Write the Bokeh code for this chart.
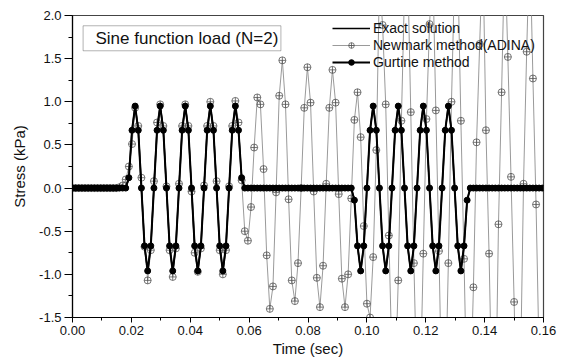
from bokeh.plotting import figure
from bokeh.models import (Range1d, FixedTicker, NumeralTickFormatter, Legend, LegendItem,
                          BoxAnnotation, Label, ColumnDataSource)
from bokeh.embed import file_html
from bokeh.resources import INLINE

# sampling step of all three series (s)
DT = 0.001064

exact_vals = (
    [0.0] * 18 + [0.12,
     0.67, 0.95, 0.67, 0.0, -0.67, -0.96, -0.67, 0.0,
     0.67, 0.95, 0.67, 0.0, -0.67, -0.96, -0.67, 0.0,
     0.67, 0.95, 0.67, 0.0, -0.67, -0.96, -0.67, 0.0,
     0.67, 0.95, 0.67, 0.0, -0.67, -0.96, -0.67, 0.0,
     0.67, 0.95, 0.67, 0.12] +
    [0.0] * 35 + [-0.14,
     -0.67, -0.96, -0.67, 0.0, 0.67, 0.95, 0.67, 0.0,
     -0.67, -0.96, -0.67, 0.0, 0.67, 0.95, 0.67, 0.0,
     -0.67, -0.96, -0.67, 0.0, 0.67, 0.95, 0.67, 0.0,
     -0.67, -0.96, -0.67, 0.0, 0.67, 0.95, 0.67, 0.0,
     -0.67, -0.96, -0.67, -0.14] +
    [0.0] * 24
)
gurtine_vals = list(exact_vals)

newmark_vals = (
    [0.0] * 15 +
    [0.01, 0.03, 0.10, 0.25, 0.51, 0.93, 0.72, 0.12, -0.68, -1.07,
     -0.72, 0.08, 0.76, 0.97, 0.72, 0.02, -0.72, -1.03, -0.70, 0.05,
     0.72, 0.97, 0.72, -0.04, -0.75, -0.97, -0.70, 0.03, 0.72, 1.00,
     0.72, 0.08, -0.72, -1.00, -0.72, 0.02, 0.72, 1.01, 0.76, 0.09,
     -0.50, -0.61, -0.22, 0.47, 1.05, 0.97, 0.22, -0.78, -1.40, -1.14,
     -0.05, 1.07, 1.48, 0.97, -0.13, -1.07, -1.31, -0.87, 0.00, 0.93,
     1.40, 0.99, -0.04, -1.04, -1.38, -0.90, 0.05, 0.93, 1.37, 0.99,
     -0.07, -1.05, -1.38, -1.00, -0.12, 0.79, 1.11, 0.59, -0.44, -1.34,
     -1.50, -0.80, 0.44, 2.40, 1.89, 0.97, -0.55, -2.00, -2.30, -1.07,
     0.78, 2.30, 2.60, 0.88, -0.87, -2.40, -2.40, -0.76, 0.80, 1.90,
     2.60, 0.90, -0.73, -2.60, -2.50, -0.87, 1.00, 2.50, 2.60, 0.78,
     -0.82, -2.60, -2.50, -1.15, 0.53, 1.67, 2.80, 0.67, -0.76, -2.60,
     -2.80, -0.42, 1.11, 2.80, 1.52, 0.13, -1.32, -2.90, -2.20, 0.05,
     1.58, 2.90, 1.27, -0.19, -2.00, -2.90]
)

time_vals = [round(i * DT, 6) for i in range(len(exact_vals))]

x_major = [0.00, 0.02, 0.04, 0.06, 0.08, 0.10, 0.12, 0.14, 0.16]
x_minor = [0.01, 0.03, 0.05, 0.07, 0.09, 0.11, 0.13, 0.15]
y_major = [-1.5, -1.0, -0.5, 0.0, 0.5, 1.0, 1.5, 2.0]
y_minor = [-1.25, -0.75, -0.25, 0.25, 0.75, 1.25, 1.75]

src = ColumnDataSource(dict(t=time_vals, exact=exact_vals, gurtine=gurtine_vals,
                            newmark=newmark_vals))

FONT = "Liberation Sans"

p = figure(width=561, height=360, x_range=Range1d(0, 0.16), y_range=Range1d(-1.5, 2.0),
           output_backend="svg", toolbar_location=None,
           min_border_left=72, min_border_right=18, min_border_top=15, min_border_bottom=43)
p.grid.visible = False
p.outline_line_color = "#444444"
p.outline_line_width = 1.2
p.background_fill_color = "white"

p.xaxis.ticker = FixedTicker(ticks=x_major, minor_ticks=x_minor)
p.yaxis.ticker = FixedTicker(ticks=y_major, minor_ticks=y_minor)
p.xaxis.formatter = NumeralTickFormatter(format="0.00")
p.yaxis.formatter = NumeralTickFormatter(format="0.0")
for ax in (p.xaxis, p.yaxis):
    ax.axis_line_color = "black"
    ax.axis_line_width = 1.2
    ax.major_tick_line_color = "black"
    ax.minor_tick_line_color = "black"
    ax.major_tick_in = 0
    ax.minor_tick_in = 0
    ax.major_label_text_font = FONT
    ax.major_label_text_font_size = "13px"
    ax.major_label_text_color = "#111111"
    ax.axis_label_text_font = FONT
    ax.axis_label_text_font_size = "15px"
    ax.axis_label_text_font_style = "normal"
    ax.axis_label_text_color = "#111111"
p.xaxis.major_tick_out = 5
p.xaxis.minor_tick_out = 3
p.yaxis.major_tick_out = 8
p.yaxis.minor_tick_out = 4
p.xaxis.major_label_standoff = 3
p.yaxis.major_label_standoff = 3
p.xaxis.axis_label = "Time (sec)"
p.yaxis.axis_label = "Stress (kPa)"
p.xaxis.axis_label_standoff = 2
p.yaxis.axis_label_standoff = 8

# Newmark (ADINA)
nm_line = p.line("t", "newmark", source=src, line_color="#9a9a9a", line_width=1)
nm_pts = p.scatter("t", "newmark", source=src, marker="circle_cross", size=7,
                   line_color="#555555", fill_color=None, line_width=0.8)
# exact solution
ex_line = p.line("t", "exact", source=src, line_color="black", line_width=1.5)
# Gurtine method
gu_line = p.line("t", "gurtine", source=src, line_color="black", line_width=2)
gu_pts = p.scatter("t", "gurtine", source=src, marker="circle", size=6,
                   line_color="black", fill_color="black")

legend = Legend(items=[
    LegendItem(label="Exact solution", renderers=[ex_line]),
    LegendItem(label="Newmark method(ADINA)", renderers=[nm_line, nm_pts]),
    LegendItem(label="Gurtine method", renderers=[gu_line, gu_pts]),
], location=(260, 247), orientation="vertical")
legend.background_fill_alpha = 0
legend.border_line_alpha = 0
legend.padding = 0
legend.margin = 0
legend.spacing = 1
legend.label_height = 14
legend.glyph_height = 14
legend.glyph_width = 38
legend.label_standoff = 3
legend.label_text_font = FONT
legend.label_text_font_size = "14px"
legend.label_text_color = "#111111"
p.add_layout(legend)

box = BoxAnnotation(left=0.0036, right=0.0708, top=1.881, bottom=1.591,
                    fill_color="white", fill_alpha=1, line_color="black", line_width=1)
p.add_layout(box)
title_lbl = Label(x=0.0078, y=1.736, text="Sine function load (N=2)", text_font=FONT,
                  text_font_size="17px", text_baseline="middle", text_color="#111111")
p.add_layout(title_lbl)

open("out.html", "w").write(file_html(p, INLINE))
